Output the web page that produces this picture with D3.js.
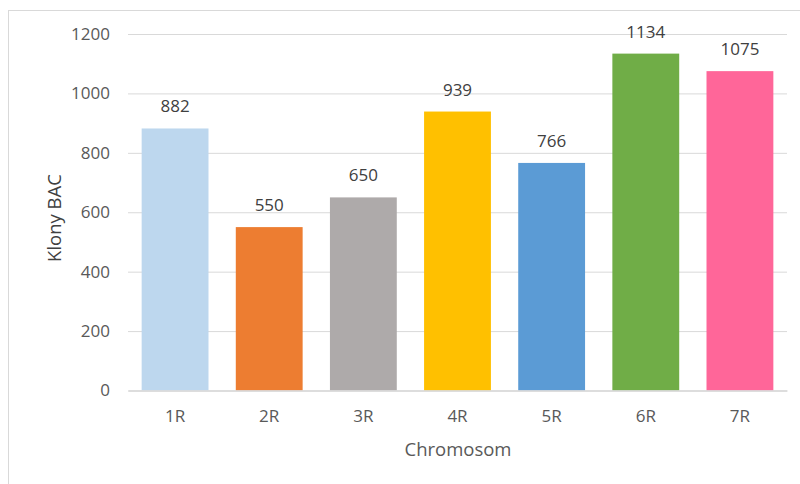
<!DOCTYPE html>
<html><head><meta charset="utf-8">
<script src="https://cdn.jsdelivr.net/npm/d3@7"></script>
<style>body{margin:0;background:#fff}svg{display:block;font-family:"Open Sans",sans-serif}</style>
</head><body>
<svg id="c" width="800" height="484"></svg>
<script>
const categories = ["1R","2R","3R","4R","5R","6R","7R"];
const values = [882,550,650,939,766,1134,1075];
const colors = ["#BDD7EE","#ED7D31","#AEAAAA","#FFC000","#5B9BD5","#70AD47","#FF6699"];
const yTicks = [0,200,400,600,800,1000,1200];
const yTitle = "Klony BAC";
const xTitle = "Chromosom";

const svg = d3.select("#c");
svg.append("rect").attr("x",8.5).attr("y",10.5).attr("width",900).attr("height",600)
  .attr("fill","#fff").attr("stroke","#d9d9d9");

const x = d3.scaleBand().domain(categories).range([128,787]).paddingInner(0.29).paddingOuter(0.145);
const y = d3.scaleLinear().domain([0,1200]).range([390.5,34]);

const gy = svg.append("g").attr("transform","translate(128,0)")
  .call(d3.axisLeft(y).tickValues(yTicks).tickFormat(d3.format("d")).tickSize(-659).tickPadding(18));
gy.select(".domain").remove();
gy.selectAll(".tick line").attr("stroke","#d9d9d9");
gy.selectAll(".tick text").attr("fill","#595959").attr("font-size",17).attr("font-family","Open Sans");

svg.selectAll("rect.bar").data(values).join("rect").attr("class","bar")
  .attr("x",(d,i)=>x(categories[i])).attr("width",x.bandwidth())
  .attr("y",d=>y(d)).attr("height",d=>y(0)-y(d))
  .attr("fill",(d,i)=>colors[i]);

const gx = svg.append("g").attr("transform","translate(0,390.5)")
  .call(d3.axisBottom(x).tickSize(0).tickPadding(19));
gx.select(".domain").attr("stroke","#d9d9d9").attr("stroke-width",1.5);
gx.selectAll(".tick text").attr("fill","#595959").attr("font-size",17).attr("font-family","Open Sans");

svg.selectAll("text.val").data(values).join("text").attr("class","val")
  .attr("x",(d,i)=>x(categories[i])+x.bandwidth()/2).attr("y",d=>y(d)-16)
  .attr("text-anchor","middle").attr("fill","#404040").attr("font-size",17)
  .text(d=>d);

svg.append("text").attr("x",458).attr("y",456).attr("text-anchor","middle")
  .attr("fill","#595959").attr("font-size",18.5).text(xTitle);
svg.append("text").attr("transform","translate(61,218) rotate(-90)").attr("text-anchor","middle")
  .attr("fill","#404040").attr("font-size",18.5).text(yTitle);
</script>
</body></html>
